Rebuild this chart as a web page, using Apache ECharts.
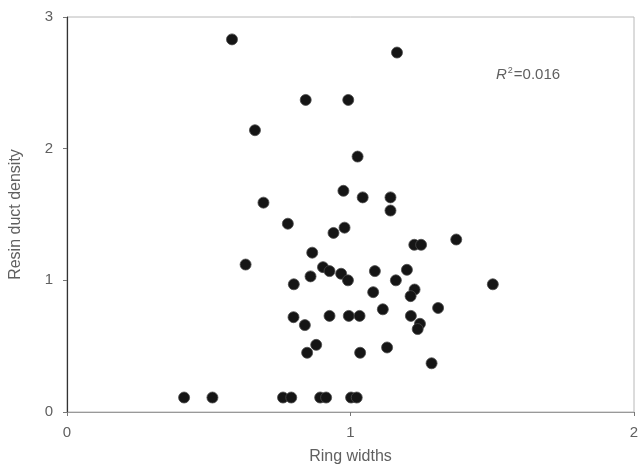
<!DOCTYPE html>
<html>
<head>
<meta charset="utf-8">
<script src="https://cdn.jsdelivr.net/npm/echarts@6/dist/echarts.min.js"></script>
<style>html,body{margin:0;padding:0;background:#fff}#c{width:638px;height:473px}</style>
</head>
<body>
<div id="c"></div>
<script>
var ringWidths = [0.582,0.842,0.992,0.663,1.025,0.975,1.043,0.693,1.164,1.141,1.141,0.779,0.940,0.979,0.865,0.630,0.903,0.926,0.859,0.967,0.991,0.800,0.799,0.839,0.926,0.994,1.032,0.879,0.847,1.034,1.225,1.249,1.373,1.086,1.199,1.160,1.080,1.226,1.212,1.502,1.114,1.309,1.213,1.245,1.237,1.129,1.286,0.413,0.513,0.762,0.791,0.893,0.914,1.002,1.022];
var resinDuctDensity = [2.83,2.37,2.37,2.14,1.94,1.68,1.63,1.59,2.73,1.63,1.53,1.43,1.36,1.40,1.21,1.12,1.10,1.07,1.03,1.05,1.00,0.97,0.72,0.66,0.73,0.73,0.73,0.51,0.45,0.45,1.27,1.27,1.31,1.07,1.08,1.00,0.91,0.93,0.88,0.97,0.78,0.79,0.73,0.67,0.63,0.49,0.37,0.11,0.11,0.11,0.11,0.11,0.11,0.11,0.11];
var xTicks = [0, 1, 2];
var yTicks = [0, 1, 2, 3];
var rSquaredText = "0.016";

var points = ringWidths.map(function(x, i){ return [x, resinDuctDensity[i]]; });
var font = 'Liberation Sans';
var chart = echarts.init(document.getElementById('c'));
chart.setOption({
  animation: false,
  backgroundColor: '#fff',
  grid: {left: 67, right: 4, top: 17, bottom: 61, show: true, borderColor: '#b8b8b8', borderWidth: 1, containLabel: false, outerBoundsMode: 'none'},
  xAxis: {
    type: 'value', min: xTicks[0], max: xTicks[xTicks.length-1], interval: 1,
    name: 'Ring widths', nameLocation: 'middle', nameGap: 37,
    nameTextStyle: {fontFamily: font, fontSize: 16, color: '#606060'},
    axisLine: {show: true, lineStyle: {color: '#999', width: 1}},
    axisTick: {show: true, length: 4, lineStyle: {color: '#777'}},
    axisLabel: {fontFamily: font, fontSize: 15, color: '#606060', margin: 13},
    splitLine: {show: false}
  },
  yAxis: {
    type: 'value', min: yTicks[0], max: yTicks[yTicks.length-1], interval: 1,
    name: 'Resin duct density', nameLocation: 'middle', nameGap: 43,
    nameTextStyle: {fontFamily: font, fontSize: 16, color: '#606060'},
    axisLine: {show: true, lineStyle: {color: '#333', width: 1.2}},
    axisTick: {show: true, length: 4, lineStyle: {color: '#777'}},
    axisLabel: {fontFamily: font, fontSize: 15, color: '#606060', margin: 14},
    splitLine: {show: false}
  },
  graphic: [{
    type: 'text', left: 496, top: 66,
    style: {
      text: '{i|R}{s|2}{n|=' + rSquaredText + '}',
      rich: {
        i: {fontFamily: font, fontStyle: 'italic', fontSize: 15, fill: '#606060'},
        s: {fontFamily: font, fontSize: 9, fill: '#606060', verticalAlign: 'top', padding: [0, 1, 8, 1]},
        n: {fontFamily: font, fontSize: 15, fill: '#606060'}
      }
    }
  }],
  series: [{
    type: 'scatter', data: points, symbolSize: 11,
    itemStyle: {color: '#151515', opacity: 1, borderColor: '#4a4a4a', borderWidth: 0.8}
  }]
});
</script>
</body>
</html>
